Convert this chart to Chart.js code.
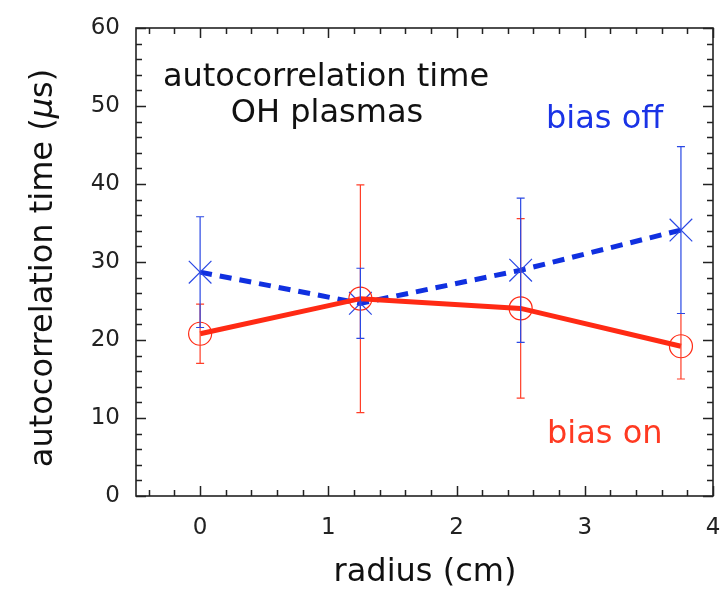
<!DOCTYPE html>
<html>
<head>
<meta charset="utf-8">
<script src="https://cdn.jsdelivr.net/npm/chart.js@4/dist/chart.umd.min.js"></script>
<style>
  html, body { margin: 0; padding: 0; background: #fff; }
  #wrap { width: 723px; height: 592px; }
</style>
</head>
<body>
<div id="wrap"><canvas id="c" width="723" height="592"></canvas></div>
<script>
// ---- data ----
const radius = [0, 1.25, 2.5, 3.75];
const biasOff = [28.7, 24.7, 28.95, 34.1];
const biasOffErr = [7.1, 4.5, 9.25, 10.7];
const biasOn = [20.8, 25.3, 24.05, 19.2];
const biasOnErr = [3.8, 14.6, 11.5, 4.2];
const xTickValues = [0, 1, 2, 3, 4];
const yTickValues = [0, 10, 20, 30, 40, 50, 60];

const BLUE = '#1030e0';
const BLUE_ERR = '#2a48e4';
const RED = '#ff2a14';
const RED_ERR = '#ff3e28';
const FONT = '"DejaVu Sans", sans-serif';

const errorBars = {
  id: 'errorBars',
  afterDatasetsDraw(chart) {
    const ctx = chart.ctx, xs = chart.scales.x, ys = chart.scales.y;
    const sets = [
      { y: biasOn, e: biasOnErr, c: RED_ERR },
      { y: biasOff, e: biasOffErr, c: BLUE_ERR }
    ];
    ctx.save();
    ctx.lineWidth = 1.2;
    sets.forEach(s => {
      ctx.strokeStyle = s.c;
      radius.forEach((r, i) => {
        const px = xs.getPixelForValue(r);
        const top = ys.getPixelForValue(s.y[i] + s.e[i]);
        const bot = ys.getPixelForValue(s.y[i] - s.e[i]);
        ctx.beginPath();
        ctx.moveTo(px, top); ctx.lineTo(px, bot);
        ctx.moveTo(px - 4, top); ctx.lineTo(px + 4, top);
        ctx.moveTo(px - 4, bot); ctx.lineTo(px + 4, bot);
        ctx.stroke();
      });
    });
    ctx.restore();
  }
};

const frameAndText = {
  id: 'frameAndText',
  afterDraw(chart) {
    const ctx = chart.ctx, a = chart.chartArea, xs = chart.scales.x, ys = chart.scales.y;
    ctx.save();
    ctx.strokeStyle = '#222';
    ctx.lineWidth = 1.6;
    ctx.strokeRect(a.left, a.top, a.right - a.left, a.bottom - a.top);
    ctx.lineWidth = 1.5;
    ctx.beginPath();
    // y ticks (minor every 2, major every 10)
    for (let v = ys.min; v <= ys.max + 1e-9; v += 2) {
      const py = Math.round(ys.getPixelForValue(v)) + 0.5;
      const len = (Math.abs(v % 10) < 1e-6) ? 10 : 6;
      ctx.moveTo(a.left, py); ctx.lineTo(a.left + len, py);
      ctx.moveTo(a.right, py); ctx.lineTo(a.right - len, py);
    }
    // x ticks (minor every 0.2, major every 1)
    for (let k = -2; k <= 20; k++) {
      const v = k * 0.2;
      if (v < xs.min - 1e-9 || v > xs.max + 1e-9) continue;
      const px = Math.round(xs.getPixelForValue(v)) + 0.5;
      const len = (k % 5 === 0) ? 10 : 6;
      ctx.moveTo(px, a.bottom); ctx.lineTo(px, a.bottom - len);
      ctx.moveTo(px, a.top); ctx.lineTo(px, a.top + len);
    }
    ctx.stroke();

    // x tick labels
    ctx.font = '23px ' + FONT;
    ctx.fillStyle = '#222';
    ctx.textAlign = 'center';
    ctx.textBaseline = 'alphabetic';
    xTickValues.forEach(v => ctx.fillText(String(v), xs.getPixelForValue(v), a.bottom + 38));

    // annotations
    ctx.font = '32px ' + FONT;
    ctx.fillStyle = '#111';
    ctx.textAlign = 'center';
    ctx.fillText('autocorrelation time', 326, 86);
    ctx.fillText('OH plasmas', 327, 122);
    ctx.textAlign = 'left';
    ctx.fillStyle = '#1a33e6';
    ctx.fillText('bias off', 546, 128);
    ctx.fillStyle = '#ff3a22';
    ctx.fillText('bias on', 547, 443);

    // axis titles
    ctx.fillStyle = '#111';
    ctx.textAlign = 'center';
    ctx.fillText('radius (cm)', 425, 581);
    ctx.translate(52, 268);
    ctx.rotate(-Math.PI / 2);
    const p1 = 'autocorrelation time (', p2 = '\u03BC', p3 = 's)';
    const fN = '32px ' + FONT, fI = 'oblique 32px ' + FONT;
    ctx.font = fN; const w1 = ctx.measureText(p1).width, w3 = ctx.measureText(p3).width;
    ctx.font = fI; const w2 = ctx.measureText(p2).width;
    let x0 = -(w1 + w2 + w3) / 2;
    ctx.textAlign = 'left';
    ctx.font = fN; ctx.fillText(p1, x0, 0);
    ctx.font = fI; ctx.fillText(p2, x0 + w1, 0);
    ctx.font = fN; ctx.fillText(p3, x0 + w1 + w2, 0);
    ctx.restore();
  }
};

new Chart(document.getElementById('c'), {
  type: 'scatter',
  data: {
    datasets: [
      {
        label: 'bias on',
        data: radius.map((r, i) => ({ x: r, y: biasOn[i] })),
        showLine: true,
        borderColor: RED,
        borderWidth: 5,
        pointStyle: 'circle',
        pointRadius: 11.5,
        pointHoverRadius: 11.5,
        pointBorderWidth: 1.2,
        pointBorderColor: RED,
        pointBackgroundColor: 'rgba(0,0,0,0)'
      },
      {
        label: 'bias off',
        data: radius.map((r, i) => ({ x: r, y: biasOff[i] })),
        showLine: true,
        borderColor: BLUE,
        borderWidth: 5,
        borderDash: [12, 8],
        pointStyle: 'crossRot',
        pointRadius: 16,
        pointHoverRadius: 16,
        pointBorderWidth: 1.2,
        pointBorderColor: BLUE_ERR,
        pointBackgroundColor: BLUE_ERR
      }
    ]
  },
  options: {
    responsive: false,
    animation: false,
    events: [],
    layout: { autoPadding: false, padding: { left: 0, right: 10, top: 28, bottom: 0 } },
    plugins: { legend: { display: false }, tooltip: { enabled: false } },
    scales: {
      x: {
        type: 'linear',
        min: -0.5, max: 4,
        grid: { display: false, drawTicks: false },
        border: { display: false },
        afterBuildTicks: s => { s.ticks = xTickValues.map(v => ({ value: v })); },
        afterFit: s => { s.height = 96; },
        ticks: { display: false }
      },
      y: {
        type: 'linear',
        min: 0, max: 60,
        grid: { display: false, drawTicks: false },
        border: { display: false },
        afterBuildTicks: s => { s.ticks = yTickValues.map(v => ({ value: v })); },
        afterFit: s => { s.width = 136; s.paddingTop = 0; s.paddingBottom = 0; },
        ticks: {
          padding: 16,
          color: '#222',
          font: { family: FONT, size: 23 },
          callback: v => String(v)
        }
      }
    }
  },
  plugins: [errorBars, frameAndText]
});
</script>
</body>
</html>
